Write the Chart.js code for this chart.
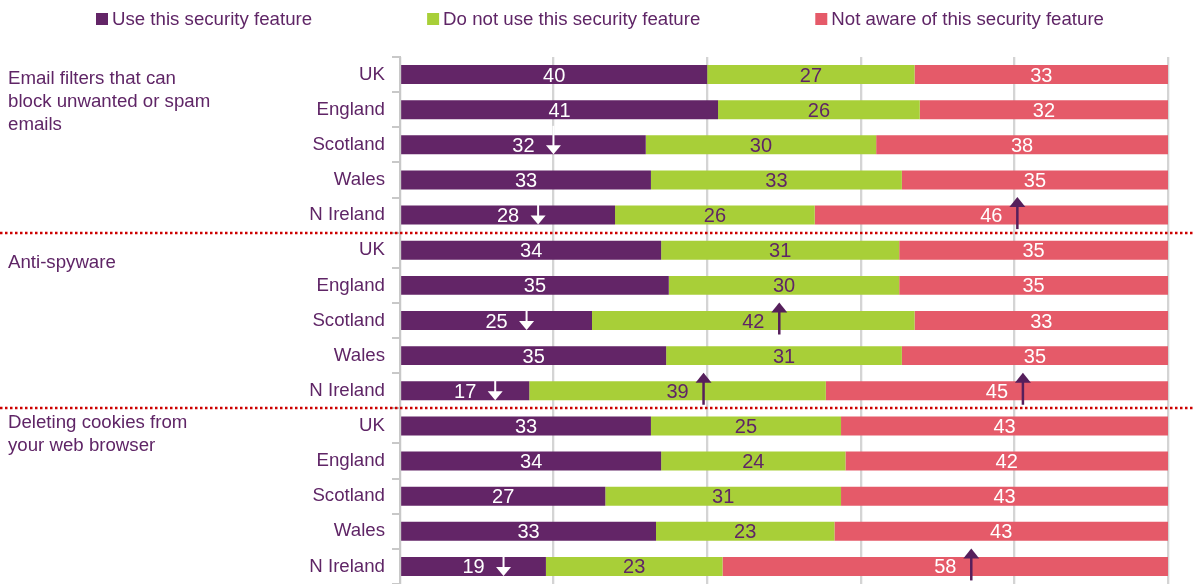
<!DOCTYPE html>
<html><head><meta charset="utf-8">
<script src="https://cdn.jsdelivr.net/npm/chart.js@4/dist/chart.umd.min.js"></script>
<style>html,body{margin:0;padding:0;background:#fff;overflow:hidden}#wrap{position:relative;width:1194px;height:584px}</style>
</head><body><div id="wrap"><canvas id="c"></canvas></div>
<script>
// ---- data ----
const categories = ['UK','England','Scotland','Wales','N Ireland',
                    'UK','England','Scotland','Wales','N Ireland',
                    'UK','England','Scotland','Wales','N Ireland'];
const groupLabels = [
  ['Email filters that can','block unwanted or spam','emails'],
  ['Anti-spyware'],
  ['Deleting cookies from','your web browser']
];
const seriesNames = ['Use this security feature','Do not use this security feature','Not aware of this security feature'];
const useValues      = [40,41,32,33,28, 34,35,25,35,17, 33,34,27,33,19];
const notUseValues   = [27,26,30,33,26, 31,30,42,31,39, 25,24,31,23,23];
const notAwareValues = [33,32,38,35,46, 35,35,33,35,45, 43,42,43,43,58];
const xTicks = [0,20,40,60,80,100];
// significance arrows: row index, series index, direction
const arrowRows   = [2,4,4, 7,7, 9,9,9, 14,14];
const arrowSeries = [0,0,2, 0,1, 0,1,2, 0,2];
const arrowDirs   = ['down','down','up','down','up','down','up','up','down','up'];

// ---- styles ----
const FONT = "'Liberation Sans', Arial, sans-serif";
const FS = 18.67;
const VFS = 20;
const TEXT = '#5f2566';
const COLORS = ['#632567','#a8cf38','#e55a69'];
const LABEL_COLORS = ['#ffffff','#5f2566','#ffffff'];
const GROUP_OFFSETS = [4,13,-3.5];

const raw = [useValues, notUseValues, notAwareValues];
const sums = categories.map((_, i) => raw[0][i] + raw[1][i] + raw[2][i]);
const datasets = raw.map((vals, s) => ({
  label: seriesNames[s],
  data: vals.map((v, i) => v / sums[i] * 100),
  rawValues: vals,
  backgroundColor: COLORS[s],
  borderWidth: 0,
  barPercentage: 0.54,
  categoryPercentage: 1
}));

const valueLabels = {
  id: 'valueLabels',
  afterDatasetsDraw(chart) {
    const ctx = chart.ctx;
    ctx.save();
    ctx.font = VFS + 'px ' + FONT;
    ctx.textAlign = 'center';
    ctx.textBaseline = 'middle';
    chart.data.datasets.forEach((ds, s) => {
      const meta = chart.getDatasetMeta(s);
      meta.data.forEach((el, i) => {
        ctx.fillStyle = LABEL_COLORS[s];
        ctx.fillText(String(ds.rawValues[i]), (el.x + el.base) / 2, el.y + 1.5);
      });
    });
    ctx.restore();
  }
};

const sigArrows = {
  id: 'sigArrows',
  afterDatasetsDraw(chart) {
    const ctx = chart.ctx;
    ctx.save();
    arrowRows.forEach((r, k) => {
      const el = chart.getDatasetMeta(arrowSeries[k]).data[r];
      const cy = el.y;
      const down = arrowDirs[k] === 'down';
      const x = (el.x + el.base) / 2 + (down ? 30 : 26);
      ctx.fillStyle = down ? '#ffffff' : '#561f5c';
      if (down) {
        const tip = cy + 9.5, top = cy - 19;
        ctx.fillRect(x - 1, top, 2, tip - top - 8);
        ctx.beginPath();
        ctx.moveTo(x - 7.5, tip - 9); ctx.lineTo(x + 7.5, tip - 9); ctx.lineTo(x, tip);
        ctx.closePath(); ctx.fill();
      } else {
        const tip = cy - 18, bot = cy + 14;
        ctx.fillRect(x - 1.25, tip + 8, 2.5, bot - tip - 8);
        ctx.beginPath();
        ctx.moveTo(x - 8, tip + 10); ctx.lineTo(x + 8, tip + 10); ctx.lineTo(x, tip);
        ctx.closePath(); ctx.fill();
      }
    });
    ctx.restore();
  }
};

const groupDecor = {
  id: 'groupDecor',
  afterDraw(chart) {
    const ctx = chart.ctx;
    const y = chart.scales.y;
    ctx.save();
    // separators
    ctx.strokeStyle = '#cc0000';
    ctx.lineWidth = 2.5;
    ctx.setLineDash([2.5, 2.5]);
    for (let g = 1; g < groupLabels.length; g++) {
      const yy = Math.round((y.getPixelForValue(g * 5 - 1) + y.getPixelForValue(g * 5)) / 2);
      ctx.beginPath(); ctx.moveTo(0, yy); ctx.lineTo(chart.width, yy); ctx.stroke();
    }
    ctx.setLineDash([]);
    // group labels
    ctx.font = FS + 'px ' + FONT;
    ctx.fillStyle = TEXT;
    ctx.textAlign = 'left';
    ctx.textBaseline = 'middle';
    groupLabels.forEach((lines, g) => {
      const y0 = y.getPixelForValue(g * 5) + GROUP_OFFSETS[g];
      lines.forEach((t, j) => ctx.fillText(t, 8, y0 + j * 23.3));
    });
    // legend
    let lx = 96;
    const ly = 19.5;
    chart.data.datasets.forEach((ds, s) => {
      ctx.fillStyle = ds.backgroundColor;
      ctx.fillRect(lx, ly - 6.5, 12, 12);
      ctx.fillStyle = TEXT;
      ctx.fillText(ds.label, lx + 16, ly);
      lx += 16 + ctx.measureText(ds.label).width + 115;
    });
    ctx.restore();
  }
};

new Chart(document.getElementById('c'), {
  type: 'bar',
  data: { labels: categories, datasets },
  options: {
    indexAxis: 'y',
    responsive: true,
    maintainAspectRatio: false,
    animation: false,
    devicePixelRatio: 1,
    layout: { padding: { top: 57, right: 26, left: 0, bottom: 0 } },
    plugins: { legend: { display: false }, tooltip: { enabled: false } },
    scales: {
      x: {
        stacked: true, min: 0, max: 100,
        afterBuildTicks(scale) { scale.ticks = xTicks.map(v => ({ value: v })); },
        afterFit(scale) { scale.height = 0; scale.paddingLeft = 0; scale.paddingRight = 0; },
        ticks: { display: false },
        grid: { color: '#d4d4d4', lineWidth: 2.3, drawTicks: false },
        border: { display: false }
      },
      y: {
        stacked: true,
        afterFit(scale) { scale.width = 400; scale.paddingTop = 0; scale.paddingBottom = 0; },
        ticks: { color: TEXT, font: { family: FONT, size: FS }, padding: 7, autoSkip: false },
        grid: { drawOnChartArea: false, color: '#c8c8c8', lineWidth: 2, tickLength: 8 },
        border: { display: true, color: '#c8c8c8', width: 2 }
      }
    }
  },
  plugins: [valueLabels, sigArrows, groupDecor]
});
</script>
</body></html>
